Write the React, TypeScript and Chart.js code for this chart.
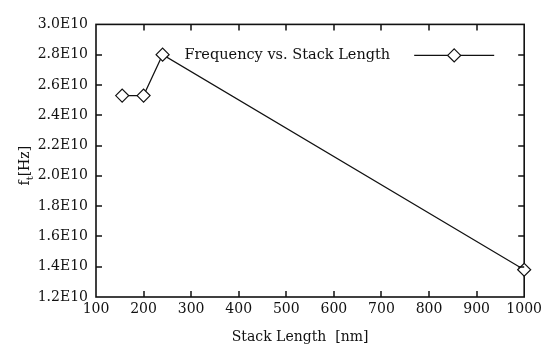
import React, { useEffect, useRef } from "react";
import { Chart, registerables } from "chart.js";

Chart.register(...registerables);

const stackLength = [155, 200, 240, 1000];
const frequency = [2.53e10, 2.53e10, 2.8e10, 1.38e10];
const seriesLabel = "Frequency vs. Stack Length";
const xTitle = "Stack Length  [nm]";
const xMin = 100;
const xMax = 1000;
const xStep = 100;
const yMin = 1.2e10;
const yMax = 3.0e10;
const yStep = 0.2e10;

const FONT = "'DejaVu Serif', 'Liberation Serif', serif";
const INK = "#111111";

const deco = {
  id: "deco",
  beforeDatasetsDraw(chart: any) {
    const { ctx, chartArea } = chart;
    const { left, right, top, bottom } = chartArea;
    ctx.save();
    ctx.strokeStyle = INK;
    ctx.lineWidth = 1.6;
    ctx.strokeRect(left, top, right - left, bottom - top);
    ctx.restore();
  },
  afterDraw(chart: any) {
    const { ctx, chartArea } = chart;
    const { left, right, top, bottom } = chartArea;
    const xs = chart.scales["x"];
    const ys = chart.scales["y"];
    ctx.save();
    // inward ticks
    ctx.strokeStyle = "#111111";
    ctx.lineWidth = 1.5;
    const tl = 6;
    for (let i = 1; i < Math.round((xMax - xMin) / xStep); i++) {
      const v = xMin + i * xStep;
      let px = xs ? xs.getPixelForValue(v) : NaN;
      if (!isFinite(px)) px = left + ((v - xMin) / (xMax - xMin)) * (right - left);
      px = Math.round(px);
      ctx.beginPath();
      ctx.moveTo(px, bottom);
      ctx.lineTo(px, bottom - tl);
      ctx.stroke();
      ctx.beginPath();
      ctx.moveTo(px, top);
      ctx.lineTo(px, top + tl);
      ctx.stroke();
    }
    for (let i = 1; i < Math.round((yMax - yMin) / yStep); i++) {
      const v = yMin + i * yStep;
      let py = ys ? ys.getPixelForValue(v) : NaN;
      if (!isFinite(py)) py = bottom - ((v - yMin) / (yMax - yMin)) * (bottom - top);
      py = Math.round(py);
      ctx.beginPath();
      ctx.moveTo(left, py);
      ctx.lineTo(left + tl, py);
      ctx.stroke();
      ctx.beginPath();
      ctx.moveTo(right, py);
      ctx.lineTo(right - tl, py);
      ctx.stroke();
    }

    ctx.fillStyle = INK;
    // legend
    const ly = top + 31;
    const lineEnd = right - 30;
    const lineStart = lineEnd - 80;
    const mid = (lineStart + lineEnd) / 2;
    ctx.lineWidth = 1.2;
    ctx.beginPath();
    ctx.moveTo(lineStart, ly);
    ctx.lineTo(lineEnd, ly);
    ctx.stroke();
    const r = 6.5;
    ctx.beginPath();
    ctx.moveTo(mid, ly - r);
    ctx.lineTo(mid + r, ly);
    ctx.lineTo(mid, ly + r);
    ctx.lineTo(mid - r, ly);
    ctx.closePath();
    ctx.fillStyle = "#fff";
    ctx.fill();
    ctx.stroke();
    ctx.fillStyle = INK;
    ctx.font = `14.5px ${FONT}`;
    ctx.textAlign = "right";
    ctx.textBaseline = "middle";
    ctx.fillText(seriesLabel, lineStart - 24, ly);
    // x title
    ctx.font = `14px ${FONT}`;
    ctx.textAlign = "center";
    ctx.fillText(xTitle, (left + right) / 2 - 10, bottom + 40);
    // y title with subscript
    ctx.translate(17, (top + bottom) / 2 + 5);
    ctx.rotate(-Math.PI / 2);
    ctx.textAlign = "left";
    ctx.font = `14px ${FONT}`;
    const fW = ctx.measureText("f").width;
    ctx.font = `10px ${FONT}`;
    const tW = ctx.measureText("t").width;
    ctx.font = `14px ${FONT}`;
    const hzW = ctx.measureText("[Hz]").width;
    const total = fW + tW + hzW;
    let cx = -total / 2;
    ctx.fillText("f", cx, 0);
    cx += fW;
    ctx.font = `10px ${FONT}`;
    ctx.fillText("t", cx, 5);
    cx += tW;
    ctx.font = `14px ${FONT}`;
    ctx.fillText("[Hz]", cx, 0);
    ctx.restore();
  },
};

export default function App() {
  const ref = useRef<HTMLCanvasElement | null>(null);
  useEffect(() => {
    if (!ref.current) return;
    const chart = new Chart(ref.current, {
      type: "line",
      data: {
        datasets: [
          {
            label: seriesLabel,
            data: stackLength.map((v, i) => ({ x: v, y: frequency[i] })),
            borderColor: INK,
            borderWidth: 1.2,
            pointStyle: "rectRot",
            pointRadius: 6.5,
            pointBackgroundColor: "#fff",
            pointBorderColor: INK,
            pointBorderWidth: 1.2,
            tension: 0,
            clip: false as any,
          },
        ],
      },
      options: {
        animation: false,
        responsive: true,
        maintainAspectRatio: false,
        layout: { padding: { top: 3, right: 20, left: 0, bottom: 0 } },
        plugins: { legend: { display: false }, tooltip: { enabled: false } },
        scales: {
          x: {
            type: "linear",
            min: xMin,
            max: xMax,
            afterFit: (s: any) => {
              s.height = 49;
            },
            grid: { display: false, drawTicks: false },
            border: { display: false },
            ticks: {
              stepSize: xStep,
              color: INK,
              padding: 4,
              maxRotation: 0,
              autoSkip: false,
              font: { family: FONT, size: 14 },
              callback: (v: any) => String(v),
            },
          },
          y: {
            type: "linear",
            min: yMin,
            max: yMax,
            afterFit: (s: any) => {
              s.width = 88;
            },
            grid: { display: false, drawTicks: false },
            border: { display: false },
            ticks: {
              stepSize: yStep,
              color: INK,
              padding: 8,
              autoSkip: false,
              font: { family: FONT, size: 14 },
              callback: (v: any) => (Math.round(Number(v) / 1e9) / 10).toFixed(1) + "E10",
            },
          },
        },
      },
      plugins: [deco],
    });
    return () => chart.destroy();
  }, []);
  return (
    <div style={{ width: 538, height: 338, position: "relative" }}>
      <canvas ref={ref} />
    </div>
  );
}
